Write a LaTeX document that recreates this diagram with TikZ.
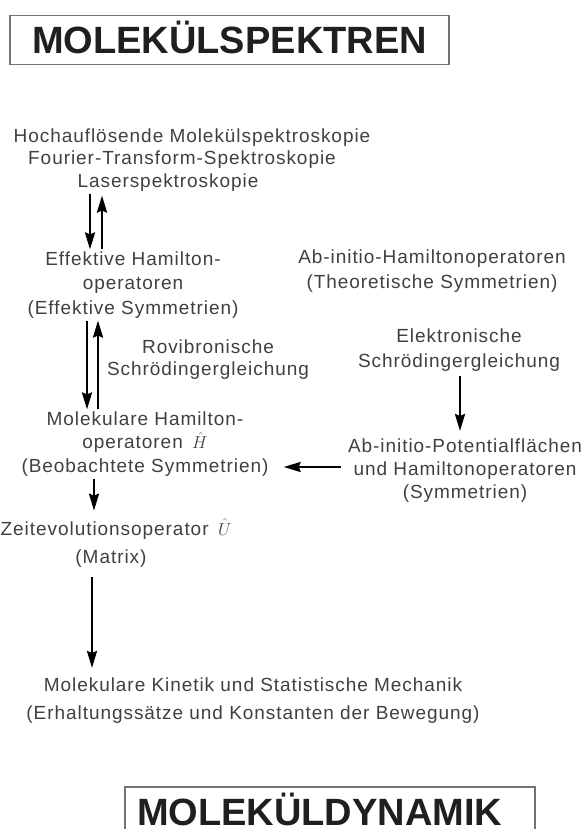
\documentclass[tikz,border=0pt]{standalone}
\usepackage{fontspec}
\setmainfont{Liberation Sans}
\newfontfamily\bodyfont[LetterSpace=5]{Liberation Sans}
\usetikzlibrary{arrows.meta}
\begin{document}
\begin{tikzpicture}[x=1pt,y=-1pt,
  txt/.style={align=center, inner sep=2pt, text=black!75, font=\bodyfont\fontsize{19}{23.5}\selectfont},
  arr/.style={line width=2.3pt, -{Stealth[length=17pt,width=10pt,inset=2pt]}},
  titlebox/.style={draw=black!55, line width=1.6pt, font=\fontsize{38}{38}\selectfont\bfseries, text=black!88, minimum height=49pt, inner ysep=0pt, text height=27pt, text depth=0pt}]
\useasboundingbox (0,0) rectangle (582,829);
\fill[white] (0,0) rectangle (582,829);
\node[titlebox, minimum width=439pt] (top) at (229.5,40) {MOLEKÜLSPEKTREN};
\node[titlebox, text width=386pt, inner xsep=12pt, align=left] (bot) at (330,811.5) {MOLEKÜLDYNAMIK};

\node[txt, font=\bodyfont\fontsize{19}{22.5}\selectfont] (spec) at (182,160) {\hspace*{20pt}Hochauflösende Molekülspektroskopie\\Fourier-Transform-Spektroskopie\\Laserspektroskopie\hspace*{28pt}};
\node[txt, font=\bodyfont\fontsize{19}{24.5}\selectfont] (eff) at (133,285) {Effektive Hamilton-\\operatoren\\(Effektive Symmetrien)};
\node[txt, font=\bodyfont\fontsize{19}{22}\selectfont] (rov) at (208,360) {Rovibronische\\Schrödingergleichung};
\node[txt] (mol) at (145,444) {Molekulare Hamilton-\\operatoren\ \,$\hat{H}$\\(Beobachtete Symmetrien)};
\node[txt, font=\bodyfont\fontsize{19}{28}\selectfont] (zeit) at (116,543) {Zeitevolutionsoperator\ \,$\hat{U}$\\(Matrix)\hspace*{10pt}};
\node[txt, font=\bodyfont\fontsize{19}{28}\selectfont] (kin) at (253,701) {Molekulare Kinetik und Statistische Mechanik\\(Erhaltungssätze und Konstanten der Bewegung)};
\node[txt, font=\bodyfont\fontsize{19}{25}\selectfont] (ab) at (432,271.5) {Ab-initio-Hamiltonoperatoren\\(Theoretische Symmetrien)};
\node[txt, font=\bodyfont\fontsize{19}{25}\selectfont] (elek) at (459,350.5) {Elektronische\\Schrödingergleichung};
\node[txt, font=\bodyfont\fontsize{19}{23}\selectfont] (pot) at (465,471) {Ab-initio-Potentialflächen\\und Hamiltonoperatoren\\(Symmetrien)};

\draw[arr] ([xshift=-92pt]spec.south) -- ([xshift=-43pt]eff.north);
\draw[arr, shorten >=2pt] ([xshift=-31pt]eff.north) -- ([xshift=-80pt]spec.south);
\draw[arr] ([xshift=-46pt]eff.south) -- ([xshift=-58pt]mol.north);
\draw[arr] ([xshift=-47pt]mol.north) -- ([xshift=-35pt]eff.south);
\draw[arr, shorten >=6pt] ([xshift=-51pt]mol.south) -- ([xshift=-22pt]zeit.north);
\draw[arr, shorten <=8pt, shorten >=8pt] ([xshift=-24pt]zeit.south) -- ([xshift=-161pt]kin.north);
\draw[arr, shorten <=2pt, shorten >=6pt] ([xshift=1pt]elek.south) -- ([xshift=-5pt]pot.north);
\draw[arr] ([xshift=-5pt,yshift=4pt]pot.west) -- ([xshift=13pt,yshift=-23pt]mol.east);
\end{tikzpicture}
\end{document}
